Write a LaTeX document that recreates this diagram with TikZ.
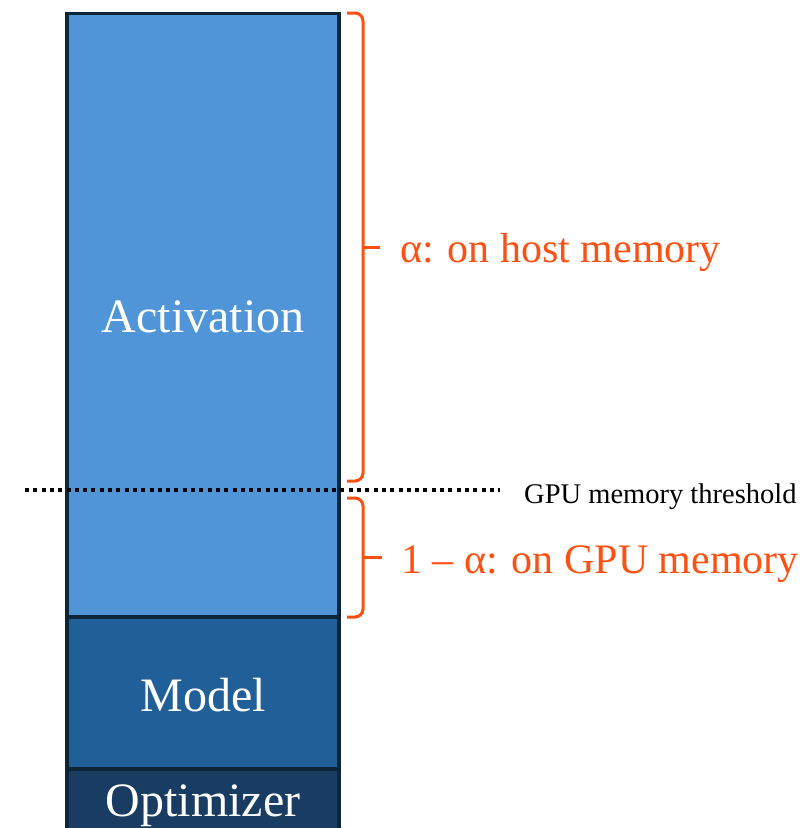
\documentclass[tikz,border=0pt]{standalone}
\usepackage{fontspec}
\setmainfont{Liberation Serif}
\definecolor{actfill}{HTML}{4F95D8}
\definecolor{modfill}{HTML}{215F99}
\definecolor{optfill}{HTML}{183C62}
\definecolor{edgecol}{HTML}{0C2638}
\definecolor{bracecol}{HTML}{FF5014}
\begin{document}
\begin{tikzpicture}[x=1pt,y=-1pt,
  block/.style={draw=edgecol,line width=3.5pt,rectangle,inner sep=0pt,outer sep=0pt,minimum width=272pt},
  bigtext/.style={text=white,font=\fontsize{48}{58}\selectfont,anchor=base,inner sep=0pt},
  bracelabel/.style={text=bracecol,font=\fontsize{42}{50}\selectfont,anchor=base west,inner sep=0pt},
  curly/.style={draw=bracecol,line width=3pt,rounded corners=8pt},
  threshold/.style={line width=4pt,dash pattern=on 4pt off 4.3pt}]
\useasboundingbox (0,0) rectangle (805,828);

% stacked memory blocks
\node[block,fill=actfill,minimum height=603.7pt] (act) at (203,315.15) {};
\node[block,fill=modfill,minimum height=152pt] (mod) at (203,693) {};
\node[block,fill=optfill,minimum height=80pt] (opt) at (203,809) {};

\node[bigtext] (actlabel) at (203,332) {Activation};
\node[bigtext] (modlabel) at (203,711) {Model};
\node[bigtext] (optlabel) at (203,816) {Optimizer};

% braces
\draw[curly] (347,13) -- (363,13) -- (363,481) -- (347,481);
\draw[draw=bracecol,line width=3pt] (363,247) -- (380,247);
\draw[curly] (347,498) -- (363,498) -- (363,617) -- (347,617);
\draw[draw=bracecol,line width=3pt] (363,557) -- (382,557);

\node[bracelabel] (host) at (400,262) {α: on host memory};
\node[bracelabel] (gpu) at (401,573) {1 – α: on GPU memory};

% memory threshold
\coordinate (thrstart) at (25,489.5);
\coordinate (thrend) at (500,489.5);
\draw[threshold] (thrstart) -- (thrend);
\node[anchor=base west,inner sep=0pt,font=\fontsize{28.5}{34}\selectfont] (thr) at (524,503) {GPU memory threshold};
\end{tikzpicture}
\end{document}
